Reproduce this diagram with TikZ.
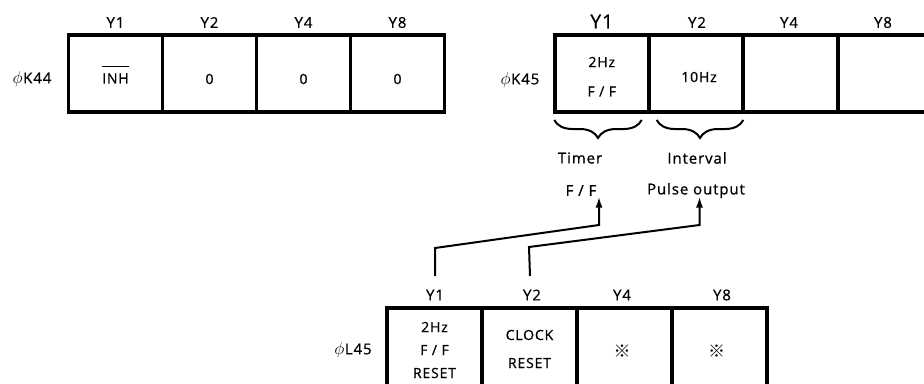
\documentclass[tikz,border=0pt]{standalone}
\usepackage{fontspec}
\setmainfont{Open Sans}[LetterSpace=6.0, FakeBold=0.8]
\newfontfamily\cjk{Noto Sans CJK JP}
\usetikzlibrary{decorations.pathreplacing,arrows.meta}
\newcommand{\phisym}{{\fontsize{17}{17}\selectfont$\phi$}\hspace{0.5pt}}
\begin{document}
\begin{tikzpicture}[x=1pt,y=-1pt,
  cell/.style={draw, line width=3.5pt, minimum width=94pt, minimum height=77pt, inner sep=0pt},
  bcell/.style={draw, line width=3.5pt, minimum width=95pt, minimum height=100pt, inner sep=0pt},
  txt/.style={font=\fontsize{14}{17}\selectfont, inner sep=0pt, anchor=center},
  lab/.style={font=\fontsize{15}{18}\selectfont, inner sep=0pt, anchor=center},
  biglab/.style={font=\fontsize{19}{22}\selectfont, inner sep=0pt, anchor=center},
  refmark/.style={font=\fontsize{17}{17}\selectfont\cjk, inner sep=0pt, anchor=center},
  bracestyle/.style={line width=2pt, decorate, decoration={brace, amplitude=18pt}},
  arr/.style={line width=2pt, -{Latex[length=11pt,width=7pt]}}
  ]
\useasboundingbox (0,0) rectangle (924,383);
\clip (0,0) rectangle (924,383);

% ---------- phi K44 ----------
\node[cell] (ka1) at (115.5,73.5) {};
\node[cell] (ka2) at (209.5,73.5) {};
\node[cell] (ka3) at (303.5,73.5) {};
\node[cell] (ka4) at (397.5,73.5) {};
\node[lab] (kaY1) at (115.5,22.5) {Y1};
\node[lab] (kaY2) at (209.5,22.5) {Y2};
\node[lab] (kaY4) at (303.5,22.5) {Y4};
\node[lab] (kaY8) at (397.5,22.5) {Y8};
\node[lab] (kaname) at (32,79) {\phisym K44};
\node[txt] (inh) at (115.5,78.5) {INH};
\draw[line width=1.4pt] ([yshift=7pt]inh.north west) -- ([yshift=7pt]inh.north east);
\node[txt] (ka2t) at (209.5,79) {0};
\node[txt] (ka3t) at (303.5,79) {0};
\node[txt] (ka4t) at (397.5,79) {0};

% ---------- phi K45 ----------
\node[cell] (kb1) at (601.75,73.5) {};
\node[cell] (kb2) at (695.75,73.5) {};
\node[cell] (kb3) at (790.25,73.5) {};
\node[cell] (kb4) at (885,73.5) {};
\node[biglab] (kbY1) at (601.75,21.5) {Y1};
\node[lab] (kbY2) at (697,22.5) {Y2};
\node[lab] (kbY4) at (789,22.5) {Y4};
\node[lab] (kbY8) at (883,22.5) {Y8};
\node[lab] (kbname) at (520,80) {\phisym K45};
\node[txt] (kb1a) at (601.75,62) {2Hz};
\node[txt] (kb1b) at (601.75,91.5) {F / F};
\node[txt] (kb2t) at (699,77) {10Hz};

% braces
\draw[bracestyle] (641.7,120) -- (554.3,120);
\draw[bracestyle] (743.3,120) -- (656.7,120);

\node[lab] (timer) at (580,158) {Timer};
\node[lab] (interval) at (697,158) {Interval};
\node[lab] (ff) at (581,190.5) {F / F};
\node[lab] (pulse) at (696,190.5) {Pulse output};

% ---------- phi L45 ----------
\node[bcell] (l1) at (434.5,358) {};
\node[bcell] (l2) at (529.5,358) {};
\node[bcell] (l3) at (624.5,358) {};
\node[bcell] (l4) at (719.5,358) {};
\node[lab] (lY1) at (435,295) {Y1};
\node[lab] (lY2) at (532,295) {Y2};
\node[lab] (lY4) at (622,295) {Y4};
\node[lab] (lY8) at (722,295) {Y8};
\node[lab] (lname) at (353,350) {\phisym L45};
\node[txt] (l1a) at (434.5,327) {2Hz};
\node[txt] (l1b) at (434.5,350) {F / F};
\node[txt] (l1c) at (434.5,373) {RESET};
\node[txt] (l2a) at (529.5,335) {CLOCK};
\node[txt] (l2b) at (529.5,363) {RESET};
\node[refmark] (l3t) at (622,351.5) {※};
\node[refmark] (l4t) at (716.5,351.5) {※};

% ---------- connectors ----------
\coordinate (s1) at (435,276);
\coordinate (e1) at (599,196.5);
\coordinate (s2) at (530,276);
\coordinate (e2) at (699.5,196.5);
\draw[arr] (s1) -- (435,248) -- (599,225) -- (e1);
\draw[arr] (s2) -- (529,247) -- (699.5,225) -- (e2);
\end{tikzpicture}
\end{document}
